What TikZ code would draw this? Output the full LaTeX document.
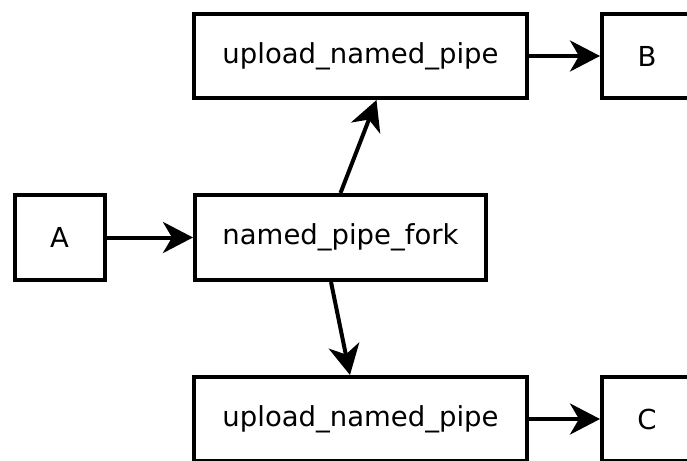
\documentclass[tikz,border=0pt]{standalone}
\usepackage{fontspec}
\setmainfont{DejaVu Sans}
\usetikzlibrary{arrows.meta}
\begin{document}
\begin{tikzpicture}[x=1pt,y=-1pt,
  box/.style={draw,line width=4pt,inner sep=0pt,font=\fontsize{27.5}{33}\selectfont},
  conn/.style={line width=4pt,-{Stealth[length=30pt,width=31pt,inset=9pt]}}]
\useasboundingbox (0,0) rectangle (687,460);
\clip (0,0) rectangle (687,460);
\node[box,minimum width=90pt,minimum height=85pt] (a) at (59.5,237.5) {A};
\node[box,minimum width=291pt,minimum height=85pt] (fork) at (340.5,237.5) {named\_pipe\_fork};
\node[box,minimum width=333pt,minimum height=84pt] (up1) at (360.5,56) {upload\_named\_pipe};
\node[box,minimum width=90pt,minimum height=84pt] (b) at (647,56) {B};
\node[box,minimum width=333pt,minimum height=84pt] (up2) at (360.5,419) {upload\_named\_pipe};
\node[box,minimum width=90pt,minimum height=84pt] (c) at (647,419) {C};
\draw[conn] (a.east) -- (fork.west);
\draw[conn] (fork.north) -- ([xshift=16pt]up1.south);
\draw[conn] ([xshift=-9.5pt]fork.south) -- ([xshift=-10.5pt]up2.north);
\draw[conn] (up1.east) -- (b.west);
\draw[conn] (up2.east) -- (c.west);
\end{tikzpicture}
\end{document}
